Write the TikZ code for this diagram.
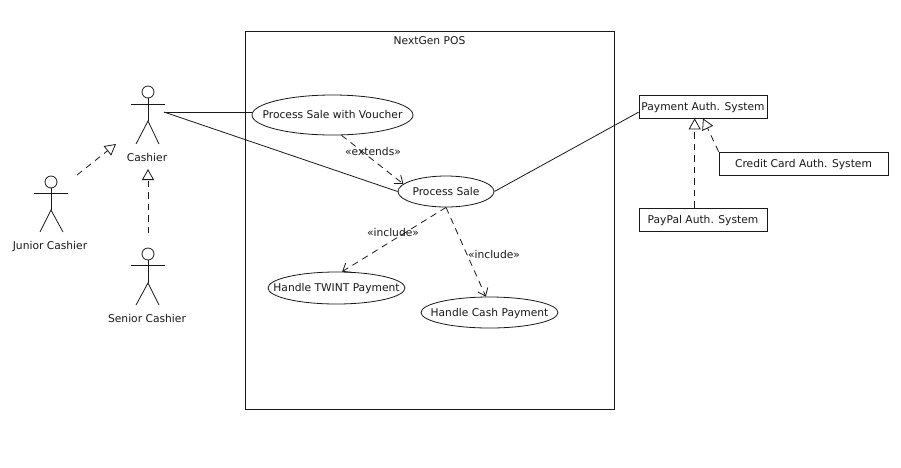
\documentclass[tikz,border=0pt]{standalone}
\usepackage{fontspec}
\setmainfont{DejaVu Sans}
\usetikzlibrary{shapes.geometric,arrows.meta}
\tikzset{
  every node/.style={font=\fontsize{10.7}{12}\selectfont,text=black!90},
  line/.style={draw=black!90,line width=0.8pt},
  usecase/.style={line,ellipse,inner sep=0pt,fill=white,text height=8pt,text depth=0.5pt},
  sysbox/.style={line,rectangle,inner sep=0pt,fill=white,text height=8pt,text depth=0.5pt},
  actorhead/.style={line,circle,minimum size=12pt,inner sep=0pt},
  actorlabel/.style={inner sep=0pt,text height=8pt,text depth=0.5pt},
  label/.style={inner sep=0pt,text height=8pt,text depth=0.5pt},
  dep/.style={line,dash pattern=on 6.5pt off 5pt,-{Straight Barb[length=7pt,width=11pt,line width=0.8pt]}},
  gen/.style={line,dash pattern=on 6.5pt off 5pt,-{Triangle[open,fill=white,length=11pt,width=12pt,line width=0.8pt]}}
}
\begin{document}
\begin{tikzpicture}[x=1pt,y=-1pt]
\useasboundingbox (0,0) rectangle (901,467);
\fill[white] (0,0) rectangle (901,467);
% system boundary
\node[sysbox,fill=none,minimum width=369pt,minimum height=378pt] (sys) at (429.5,220) {};
\node[label] (systitle) at (429.5,41) {NextGen POS};
% use cases
\node[usecase,minimum width=161pt,minimum height=40pt] (psv) at (332.5,115) {\makebox[0pt]{Process Sale with Voucher}};
\node[usecase,minimum width=96pt,minimum height=31pt] (ps) at (446,191.5) {\makebox[0pt]{Process Sale}};
\node[usecase,minimum width=137pt,minimum height=32pt] (twint) at (336.5,288) {\makebox[0pt]{Handle TWINT Payment}};
\node[usecase,minimum width=137pt,minimum height=31pt] (cash) at (489.5,312.5) {\makebox[0pt]{Handle Cash Payment}};
% external systems
\node[sysbox,minimum width=128pt,minimum height=23pt] (pay) at (703,106.5) {Payment Auth. System};
\node[sysbox,minimum width=169pt,minimum height=23pt] (credit) at (803.5,163.5) {Credit Card Auth. System};
\node[sysbox,minimum width=128pt,minimum height=23pt] (paypal) at (703,219.5) {PayPal Auth. System};
% actors
\node[actorhead] (cashierhead) at (148,92) {};
\coordinate (cashierhip) at (148,121);
\draw[line] (cashierhead) -- (cashierhip);
\draw[line] (131,104) -- (165,104);
\draw[line] (136,144) -- (cashierhip) -- (159,144);
\node[actorlabel] (cashierlabel) at (147,158) {Cashier};
\node[actorhead] (juniorhead) at (51,182) {};
\coordinate (juniorhip) at (51,210);
\draw[line] (juniorhead) -- (juniorhip);
\draw[line] (34,193) -- (68,193);
\draw[line] (40,232) -- (juniorhip) -- (63,232);
\node[actorlabel] (juniorlabel) at (50,246) {Junior Cashier};
\node[actorhead] (seniorhead) at (148,254) {};
\coordinate (seniorhip) at (148,283);
\draw[line] (seniorhead) -- (seniorhip);
\draw[line] (131,265) -- (165,265);
\draw[line] (136,305) -- (seniorhip) -- (159,305);
\node[actorlabel] (seniorlabel) at (147,319) {Senior Cashier};
% connector ends
\coordinate (cashierhand) at (164,112);
\coordinate (juniorend) at (77,175);
\coordinate (cashiergenj) at (116,144);
\coordinate (seniorend) at (148,233);
\coordinate (cashiergens) at (148,169);
% connectors
\draw[line] (cashierhand) -- (psv.west |- cashierhand);
\draw[line] (cashierhand) -- (ps.west);
\draw[line] (ps.east) -- (pay.185);
\draw[dep] (psv.-66) -- (ps.170);
\draw[dep] (ps.south) -- (twint.71);
\draw[dep] (ps.south) -- (cash.103);
\draw[gen] (juniorend) -- (cashiergenj);
\draw[gen] (seniorend) -- (cashiergens);
\draw[gen] (paypal.125) -- (pay.235);
\draw[gen] (credit.north west) -- (pay.south);
% labels
\node[label] (extlabel) at (373,152) {«extends»};
\node[label] (inclabela) at (393,233) {«include»};
\node[label] (inclabelb) at (494,255) {«include»};
\end{tikzpicture}
\end{document}
